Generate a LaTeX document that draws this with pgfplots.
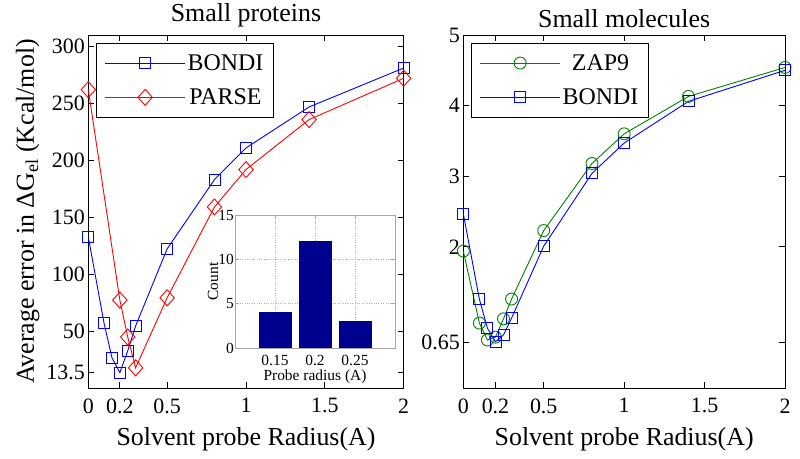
\documentclass[border=0pt]{standalone}
\usepackage{fontspec}
\setmainfont{Liberation Serif}
\usepackage{pgfplots}
\pgfplotsset{compat=1.18}
\definecolor{mblue}{rgb}{0,0,1}
\definecolor{mred}{rgb}{1,0,0}
\definecolor{mgreen}{rgb}{0,0.5,0}
\definecolor{navy}{rgb}{0,0,0.56}
\pgfplotsset{
  mainax/.style={
    scale only axis, height=353bp,
    anchor=south west,
    /pgf/number format/assume math mode=true,
    tick label style={font=\fontsize{22}{24}\selectfont},
    xticklabel style={yshift=-7bp},
    label style={font=\fontsize{26}{30}\selectfont},
    xlabel style={yshift=-7bp},
    title style={font=\fontsize{26}{30}\selectfont, yshift=-2bp},
    legend style={font=\fontsize{24}{26}\selectfont, draw=black, line width=0.8bp,
      at={(0,1)}, anchor=north west, xshift=8bp, yshift=-8bp,
      inner xsep=8bp, inner ysep=9bp, row sep=13bp},
    legend image code/.code={\draw[mark repeat=2,mark phase=2,#1] plot coordinates {(0bp,0bp) (40bp,0bp) (80bp,0bp)};},
    axis line style={line width=0.8bp},
    major tick length=6bp,
    tick style={line width=0.8bp, black},
    xmin=0, xmax=2, xtick={0,0.2,0.5,1,1.5,2}, xticklabels={0,0.2,0.5,1,1.5,2},
    xlabel={Solvent probe Radius(A)},
  }
}
\begin{document}
\begin{tikzpicture}
\path[use as bounding box] (0,0) rectangle (800bp,459bp);
\begin{axis}[mainax, width=315.4bp, at={(88.3bp,71bp)},
  ymin=0, ymax=310, ytick={13.5,50,100,150,200,250,300},
  yticklabels={13.5,50,100,150,200,250,300},
  ylabel={Average error in ΔG\textsubscript{el} (Kcal/mol)},
  title={Small proteins}]
\addplot[mblue, line width=0.9bp, mark=square, mark size=5.5bp, mark options={solid, line width=0.9bp}] coordinates {
(0,132.7) (0.1,56.8) (0.15,26.6) (0.2,13.5) (0.25,32.6) (0.3,54.5) (0.5,122.2) (0.8,183) (1.0,210.8) (1.4,246.8) (2.0,281)};
\addlegendentry{BONDI}
\addplot[mred, line width=0.9bp, mark=diamond, mark size=8bp, mark options={solid, line width=0.9bp, xscale=1.2}] coordinates {
(0,262) (0.2,77.2) (0.25,44.8) (0.3,17.7) (0.5,79.2) (0.8,159) (1.0,191.8) (1.4,235.7) (2.0,272)};
\addlegendentry{PARSE}
\end{axis}
\begin{axis}[mainax, width=321.7bp, at={(463.3bp,71bp)},
  ymin=0, ymax=5, ytick={0.65,2,3,4,5},
  yticklabels={0.65,2,3,4,5},
  title={Small molecules}]
\addplot[mgreen, line width=0.9bp, mark=o, mark size=6bp, mark options={solid, line width=0.9bp}] coordinates {
(0,1.94) (0.1,0.92) (0.15,0.68) (0.2,0.72) (0.25,0.98) (0.3,1.26) (0.5,2.23) (0.8,3.18) (1.0,3.6) (1.4,4.13) (2.0,4.54)};
\addlegendentry{ZAP9}
\addplot[mblue, line width=0.9bp, mark=square, mark size=5.5bp, mark options={solid, line width=0.9bp}] coordinates {
(0,2.47) (0.1,1.257) (0.15,0.847) (0.2,0.655) (0.25,0.753) (0.3,0.989) (0.5,2.01) (0.8,3.04) (1.0,3.47) (1.4,4.06) (2.0,4.5)};
\addlegendentry{BONDI}
\end{axis}
\begin{axis}[scale only axis, width=160bp, height=133bp, anchor=south west, at={(235bp,111bp)},
  /pgf/number format/assume math mode=true,
  axis background/.style={fill=white},
  xmin=0.1, xmax=0.3, ymin=0, ymax=15,
  xtick={0.15,0.2,0.25}, xticklabels={0.15,0.2,0.25},
  ytick={0,5,10,15},
  grid=major, grid style={gray!60, dotted, line width=0.6bp},
  axis line style={gray!70, line width=0.6bp},
  tick style={gray!70, line width=0.6bp}, major tick length=4bp,
  tick label style={font=\fontsize{15.5}{17}\selectfont, inner sep=1bp},
  label style={font=\fontsize{15.5}{17}\selectfont, inner sep=1bp},
  xlabel={Probe radius (A)}, ylabel={Count},
  xlabel style={yshift=-1.5bp}, ylabel style={yshift=-2bp},
  xticklabel style={yshift=-6bp}]
\addplot[ybar, bar width=0.04, fill=navy, draw=navy] coordinates {(0.15,4) (0.2,12) (0.25,3)};
\end{axis}
\end{tikzpicture}
\end{document}
